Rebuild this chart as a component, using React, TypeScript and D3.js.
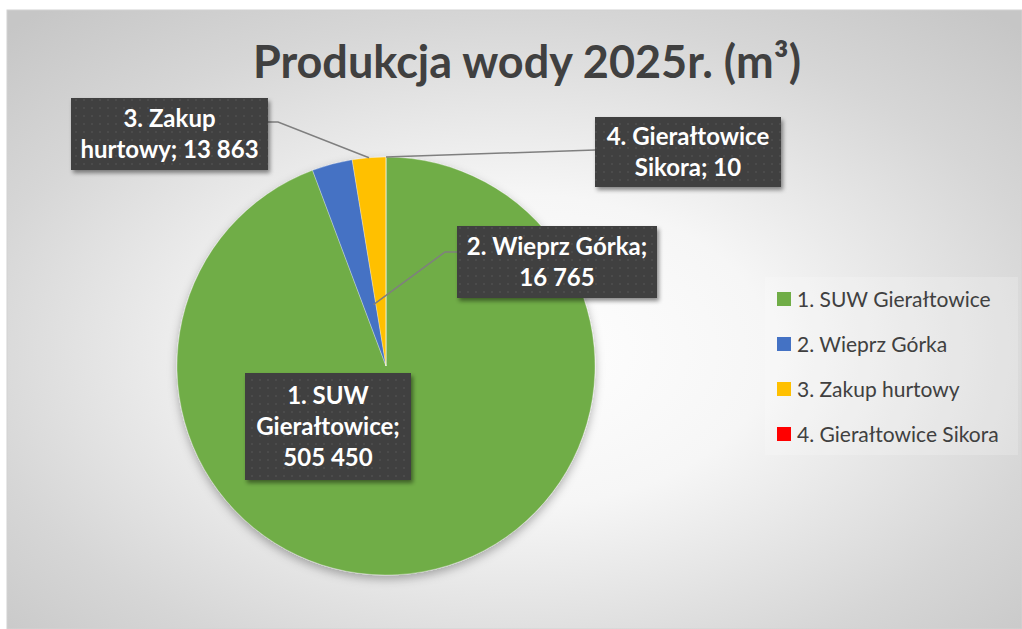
import React from "react";
import * as d3 from "d3";

const categories = ["1. SUW Gierałtowice", "2. Wieprz Górka", "3. Zakup hurtowy", "4. Gierałtowice Sikora"];
const values = [505450, 16765, 13863, 10];
const colors = ["#70AD47", "#4472C4", "#FFC000", "#FF0000"];
const labelLines = [
  ["1. SUW", "Gierałtowice;", "505 450"],
  ["2. Wieprz Górka;", "16 765"],
  ["3. Zakup", "hurtowy; 13 863"],
  ["4. Gierałtowice", "Sikora; 10"],
];
const title = "Produkcja wody 2025r. (m³)";

const W = 1022, H = 629;
const cx = 386, cy = 366, R = 209;

// label boxes (layout)
const boxes = [
  { x: 245, y: 373, w: 166, h: 107 },
  { x: 457, y: 226, w: 200, h: 72 },
  { x: 71, y: 98, w: 197, h: 72 },
  { x: 595, y: 117, w: 186, h: 70 },
];

export default function App() {
  const pie = d3.pie<number>().sort(null).value((d) => d).startAngle(0).endAngle(2 * Math.PI);
  const arcs = pie(values);
  const arc = d3.arc<d3.PieArcDatum<number>>().innerRadius(0).outerRadius(R);
  const polar = (a: number, r: number): [number, number] => [cx + r * Math.sin(a), cy - r * Math.cos(a)];
  const mid = (d: d3.PieArcDatum<number>) => (d.startAngle + d.endAngle) / 2;

  const leaders: string[] = [];
  {
    const b = boxes[1];
    const end = polar(mid(arcs[1]) + 0.06, R * 0.3);
    leaders.push(`M${b.x},${b.y + 26}L${b.x - 12},${b.y + 26}L${end[0]},${end[1]}`);
    const b3 = boxes[2];
    const e3 = polar(mid(arcs[2]), R);
    leaders.push(`M${b3.x + b3.w},${b3.y + 24}L${b3.x + b3.w + 10},${b3.y + 24}L${e3[0]},${e3[1]}`);
    const b4 = boxes[3];
    const e4 = polar(mid(arcs[3]), R);
    leaders.push(`M${b4.x},${b4.y + 33}L${e4[0]},${e4[1]}`);
  }

  const lineH = 31;
  const font = "Lato, 'Open Sans', sans-serif";

  return (
    <svg width={W} height={H} style={{ position: "absolute", left: 0, top: 0, background: "#fff" }}>
      <defs>
        <radialGradient id="bg" cx="0.5" cy="0.55" r="0.72">
          <stop offset="0" stopColor="#ffffff" />
          <stop offset="0.35" stopColor="#f6f6f6" />
          <stop offset="0.75" stopColor="#d6d6d6" />
          <stop offset="1" stopColor="#c6c6c6" />
        </radialGradient>
        <pattern id="dots" width="8" height="8" patternUnits="userSpaceOnUse">
          <rect width="8" height="8" fill="#404040" />
          <circle cx="4" cy="4" r="1.1" fill="#4e4e4e" />
        </pattern>
        <filter id="shadow" x="-20%" y="-20%" width="140%" height="140%">
          <feDropShadow dx="2" dy="3" stdDeviation="2" floodColor="#000" floodOpacity="0.45" />
        </filter>
        <filter id="pieShadow" x="-20%" y="-20%" width="140%" height="140%">
          <feDropShadow dx="0" dy="4" stdDeviation="5" floodColor="#000" floodOpacity="0.3" />
        </filter>
      </defs>
      <rect x={7} y={10} width={W - 7} height={H - 10} fill="url(#bg)" stroke="#d2d2d2" strokeWidth={1} />
      <text x={527} y={78} textAnchor="middle" fontFamily={font} fontWeight={700} fontSize={45} fill="#404040">
        {title}
      </text>
      <g filter="url(#pieShadow)">
        {arcs.map((d, i) => (
          <path key={i} d={arc(d) || ""} transform={`translate(${cx},${cy})`} fill={colors[i]} stroke="#ffffff" strokeOpacity={0.5} strokeWidth={0.6} />
        ))}
      </g>
      {leaders.map((p, i) => (
        <path key={i} d={p} fill="none" stroke="#7f7f7f" strokeWidth={1.5} />
      ))}
      {boxes.map((b, i) => {
        const lines = labelLines[i];
        const top = b.y + b.h / 2 - ((lines.length - 1) * lineH) / 2;
        return (
          <g key={i}>
            <rect x={b.x} y={b.y} width={b.w} height={b.h} fill="url(#dots)" filter="url(#shadow)" />
            {lines.map((t, j) => (
              <text key={j} x={b.x + b.w / 2} y={top + j * lineH} dy="0.36em" textAnchor="middle" fontFamily={font} fontWeight={700} fontSize={24} fill="#ffffff">
                {t}
              </text>
            ))}
          </g>
        );
      })}
      <rect x={765} y={277} width={253} height={178} fill="#ffffff" opacity={0.2} />
      {categories.map((c, i) => (
        <g key={i} transform={`translate(777,${299 + i * 45})`}>
          <rect x={0} y={-7} width={14} height={14} fill={colors[i]} />
          <text x={20} y={0} dy="0.36em" fontFamily={font} fontSize={21} fill="#404040">
            {c}
          </text>
        </g>
      ))}
    </svg>
  );
}
